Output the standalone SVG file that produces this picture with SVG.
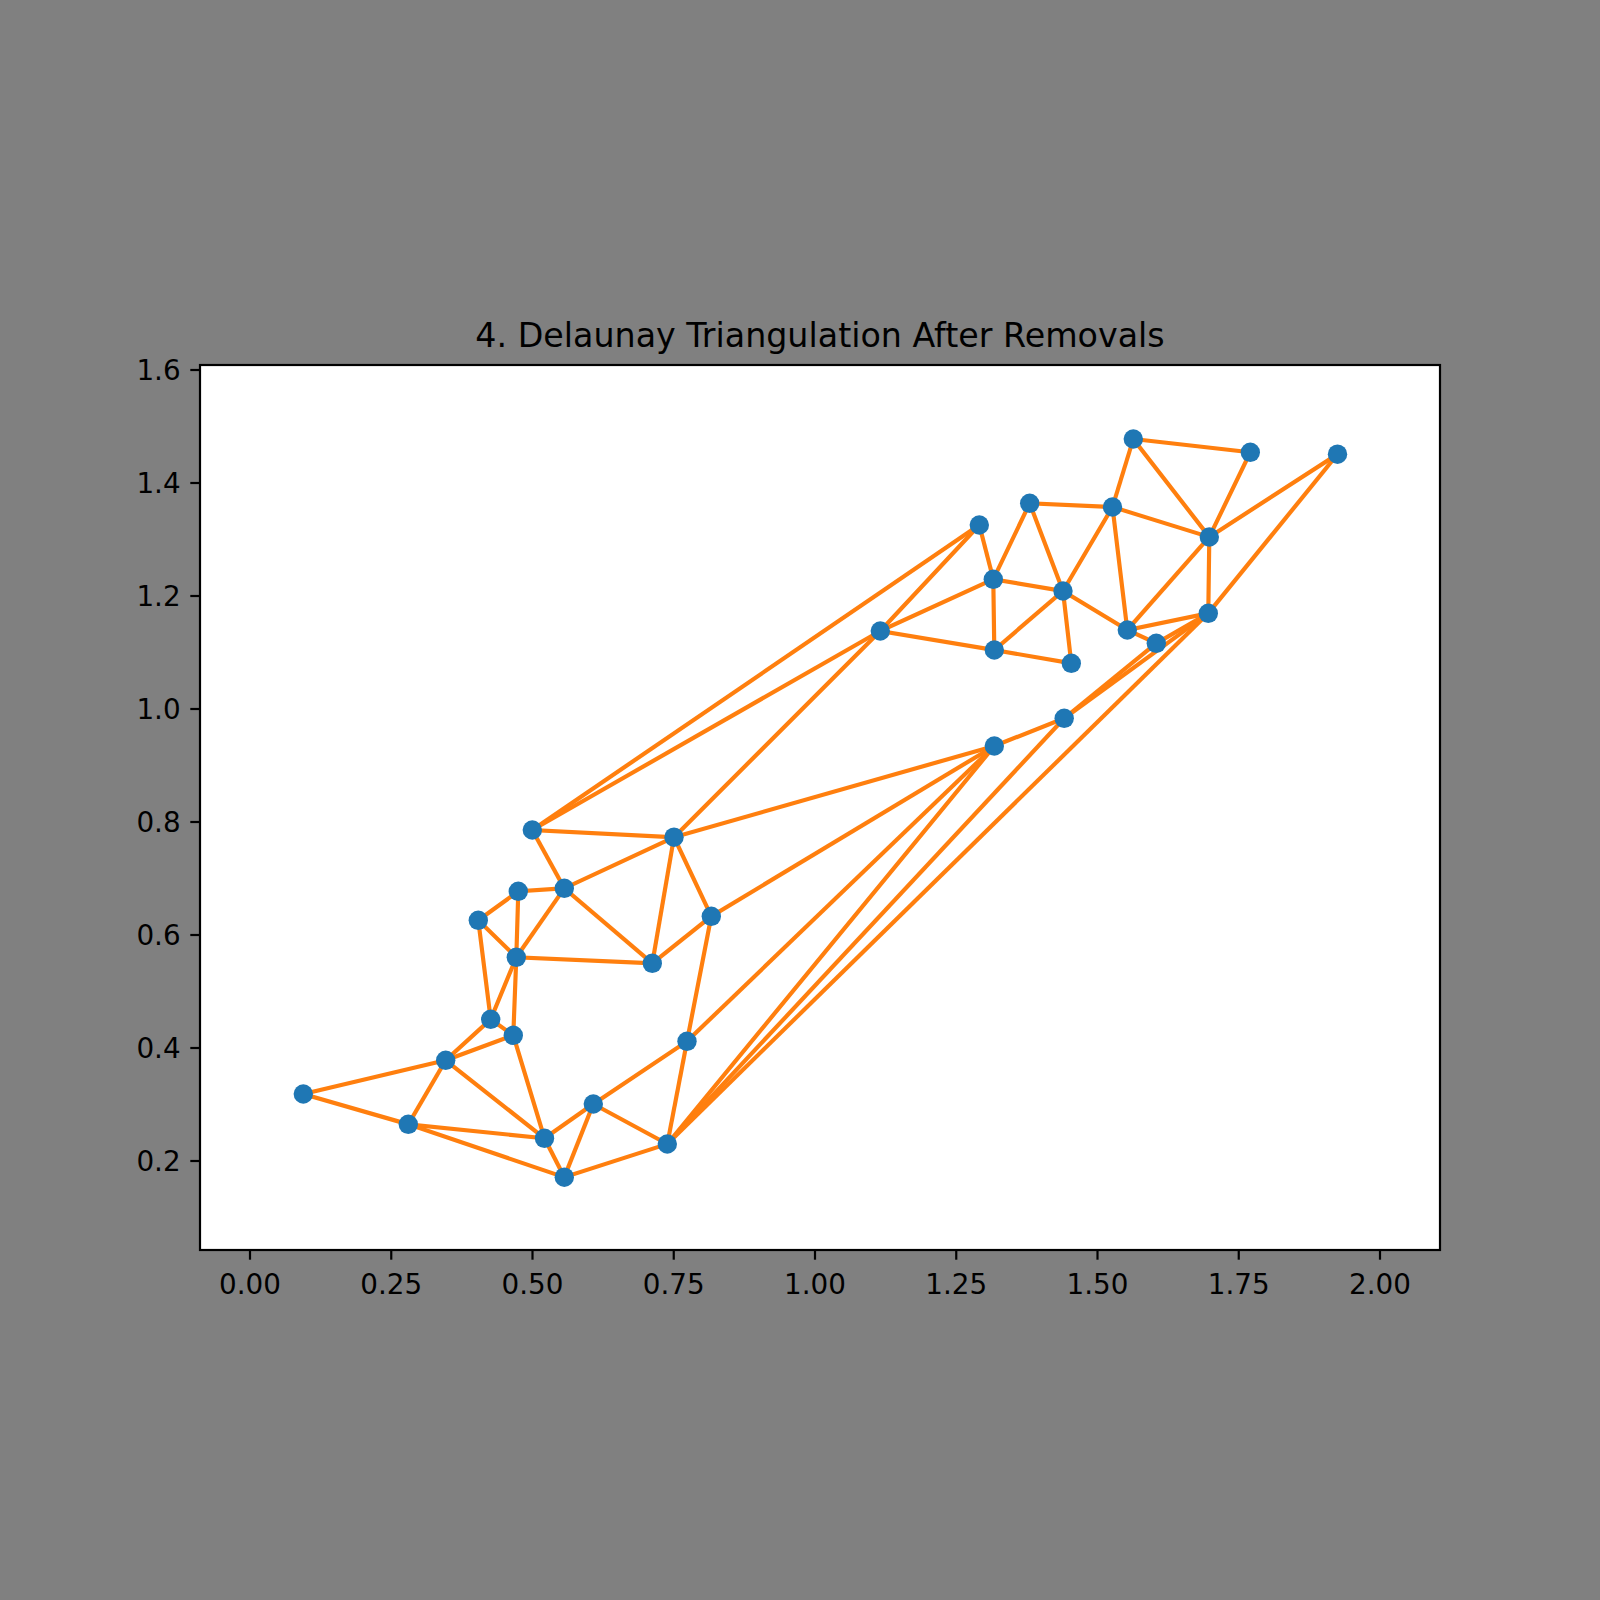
<svg xmlns="http://www.w3.org/2000/svg" width="1600" height="1600" viewBox="0 0 1600 1600">
<style>
.e{stroke:#ff7f0e;stroke-width:4.17;stroke-linecap:square;fill:none}
.n{fill:#1f77b4}
.tk{stroke:#000;stroke-width:2.2}
.tl{font-family:"DejaVu Sans","Liberation Sans",sans-serif;font-size:27.8px;fill:#000}
.yl{text-anchor:end}
.xl{text-anchor:middle}
</style>
<defs><clipPath id="ax"><rect x="200" y="365" width="1240" height="885"/></clipPath></defs>
<rect x="0" y="0" width="1600" height="1600" fill="#808080"/>
<rect x="200" y="365" width="1240" height="885" fill="#fff"/>
<g id="connectors" clip-path="url(#ax)">
<line class="e" x1="303.3" y1="1094" x2="445.7" y2="1060.3"/>
<line class="e" x1="303.3" y1="1094" x2="408.3" y2="1124.3"/>
<line class="e" x1="408.3" y1="1124.3" x2="445.7" y2="1060.3"/>
<line class="e" x1="408.3" y1="1124.3" x2="544.5" y2="1138.3"/>
<line class="e" x1="408.3" y1="1124.3" x2="564.3" y2="1177.2"/>
<line class="e" x1="445.7" y1="1060.3" x2="490.7" y2="1019.3"/>
<line class="e" x1="445.7" y1="1060.3" x2="513.3" y2="1035.3"/>
<line class="e" x1="445.7" y1="1060.3" x2="544.5" y2="1138.3"/>
<line class="e" x1="490.7" y1="1019.3" x2="513.3" y2="1035.3"/>
<line class="e" x1="490.7" y1="1019.3" x2="478.3" y2="920.3"/>
<line class="e" x1="490.7" y1="1019.3" x2="516.3" y2="957.3"/>
<line class="e" x1="513.3" y1="1035.3" x2="516.3" y2="957.3"/>
<line class="e" x1="513.3" y1="1035.3" x2="544.5" y2="1138.3"/>
<line class="e" x1="478.3" y1="920.3" x2="518.3" y2="891.3"/>
<line class="e" x1="478.3" y1="920.3" x2="516.3" y2="957.3"/>
<line class="e" x1="518.3" y1="891.3" x2="516.3" y2="957.3"/>
<line class="e" x1="518.3" y1="891.3" x2="564.3" y2="888.3"/>
<line class="e" x1="516.3" y1="957.3" x2="564.3" y2="888.3"/>
<line class="e" x1="516.3" y1="957.3" x2="652.3" y2="963.3"/>
<line class="e" x1="564.3" y1="888.3" x2="532.3" y2="830"/>
<line class="e" x1="564.3" y1="888.3" x2="674" y2="837.2"/>
<line class="e" x1="564.3" y1="888.3" x2="652.3" y2="963.3"/>
<line class="e" x1="532.3" y1="830" x2="674" y2="837.2"/>
<line class="e" x1="532.3" y1="830" x2="880.3" y2="631"/>
<line class="e" x1="532.3" y1="830" x2="979.3" y2="525"/>
<line class="e" x1="674" y1="837.2" x2="652.3" y2="963.3"/>
<line class="e" x1="674" y1="837.2" x2="711.3" y2="916.3"/>
<line class="e" x1="674" y1="837.2" x2="880.3" y2="631"/>
<line class="e" x1="674" y1="837.2" x2="994.3" y2="746"/>
<line class="e" x1="711.3" y1="916.3" x2="652.3" y2="963.3"/>
<line class="e" x1="711.3" y1="916.3" x2="687" y2="1041.3"/>
<line class="e" x1="711.3" y1="916.3" x2="994.3" y2="746"/>
<line class="e" x1="687" y1="1041.3" x2="667.3" y2="1144"/>
<line class="e" x1="687" y1="1041.3" x2="593.3" y2="1104"/>
<line class="e" x1="687" y1="1041.3" x2="994.3" y2="746"/>
<line class="e" x1="593.3" y1="1104" x2="544.5" y2="1138.3"/>
<line class="e" x1="593.3" y1="1104" x2="564.3" y2="1177.2"/>
<line class="e" x1="593.3" y1="1104" x2="667.3" y2="1144"/>
<line class="e" x1="544.5" y1="1138.3" x2="564.3" y2="1177.2"/>
<line class="e" x1="564.3" y1="1177.2" x2="667.3" y2="1144"/>
<line class="e" x1="667.3" y1="1144" x2="994.3" y2="746"/>
<line class="e" x1="667.3" y1="1144" x2="1064.2" y2="718.3"/>
<line class="e" x1="667.3" y1="1144" x2="1208.3" y2="613.3"/>
<line class="e" x1="994.3" y1="746" x2="1064.2" y2="718.3"/>
<line class="e" x1="1064.2" y1="718.3" x2="1156.3" y2="643.3"/>
<line class="e" x1="1064.2" y1="718.3" x2="1208.3" y2="613.3"/>
<line class="e" x1="880.3" y1="631" x2="979.3" y2="525"/>
<line class="e" x1="880.3" y1="631" x2="993.3" y2="579.3"/>
<line class="e" x1="880.3" y1="631" x2="994.3" y2="650"/>
<line class="e" x1="979.3" y1="525" x2="993.3" y2="579.3"/>
<line class="e" x1="993.3" y1="579.3" x2="1029.7" y2="503.3"/>
<line class="e" x1="993.3" y1="579.3" x2="1063" y2="591"/>
<line class="e" x1="993.3" y1="579.3" x2="994.3" y2="650"/>
<line class="e" x1="994.3" y1="650" x2="1063" y2="591"/>
<line class="e" x1="994.3" y1="650" x2="1071.3" y2="663.3"/>
<line class="e" x1="1063" y1="591" x2="1071.3" y2="663.3"/>
<line class="e" x1="1029.7" y1="503.3" x2="1063" y2="591"/>
<line class="e" x1="1029.7" y1="503.3" x2="1112.5" y2="507"/>
<line class="e" x1="1063" y1="591" x2="1112.5" y2="507"/>
<line class="e" x1="1063" y1="591" x2="1127.3" y2="630"/>
<line class="e" x1="1112.5" y1="507" x2="1127.3" y2="630"/>
<line class="e" x1="1112.5" y1="507" x2="1133.3" y2="439"/>
<line class="e" x1="1112.5" y1="507" x2="1209.3" y2="537"/>
<line class="e" x1="1127.3" y1="630" x2="1209.3" y2="537"/>
<line class="e" x1="1127.3" y1="630" x2="1208.3" y2="613.3"/>
<line class="e" x1="1127.3" y1="630" x2="1156.3" y2="643.3"/>
<line class="e" x1="1133.3" y1="439" x2="1250.3" y2="452.3"/>
<line class="e" x1="1133.3" y1="439" x2="1209.3" y2="537"/>
<line class="e" x1="1250.3" y1="452.3" x2="1209.3" y2="537"/>
<line class="e" x1="1337.5" y1="454.2" x2="1209.3" y2="537"/>
<line class="e" x1="1337.5" y1="454.2" x2="1208.3" y2="613.3"/>
<line class="e" x1="1209.3" y1="537" x2="1208.3" y2="613.3"/>
<line class="e" x1="1208.3" y1="613.3" x2="1156.3" y2="643.3"/>
</g>
<g id="nodes">
<g id="n01"><circle class="n" cx="303.3" cy="1094" r="9.7"/></g>
<g id="n02"><circle class="n" cx="408.3" cy="1124.3" r="9.7"/></g>
<g id="n03"><circle class="n" cx="445.7" cy="1060.3" r="9.7"/></g>
<g id="n04"><circle class="n" cx="490.7" cy="1019.3" r="9.7"/></g>
<g id="n05"><circle class="n" cx="513.3" cy="1035.3" r="9.7"/></g>
<g id="n06"><circle class="n" cx="478.3" cy="920.3" r="9.7"/></g>
<g id="n07"><circle class="n" cx="518.3" cy="891.3" r="9.7"/></g>
<g id="n08"><circle class="n" cx="516.3" cy="957.3" r="9.7"/></g>
<g id="n09"><circle class="n" cx="564.3" cy="888.3" r="9.7"/></g>
<g id="n10"><circle class="n" cx="544.5" cy="1138.3" r="9.7"/></g>
<g id="n11"><circle class="n" cx="564.3" cy="1177.2" r="9.7"/></g>
<g id="n12"><circle class="n" cx="674" cy="837.2" r="9.7"/></g>
<g id="n13"><circle class="n" cx="711.3" cy="916.3" r="9.7"/></g>
<g id="n14"><circle class="n" cx="652.3" cy="963.3" r="9.7"/></g>
<g id="n15"><circle class="n" cx="687" cy="1041.3" r="9.7"/></g>
<g id="n16"><circle class="n" cx="593.3" cy="1104" r="9.7"/></g>
<g id="n17"><circle class="n" cx="667.3" cy="1144" r="9.7"/></g>
<g id="n18"><circle class="n" cx="532.3" cy="830" r="9.7"/></g>
<g id="n19"><circle class="n" cx="880.3" cy="631" r="9.7"/></g>
<g id="n20"><circle class="n" cx="979.3" cy="525" r="9.7"/></g>
<g id="n21"><circle class="n" cx="993.3" cy="579.3" r="9.7"/></g>
<g id="n22"><circle class="n" cx="994.3" cy="650" r="9.7"/></g>
<g id="n23"><circle class="n" cx="1029.7" cy="503.3" r="9.7"/></g>
<g id="n24"><circle class="n" cx="1063" cy="591" r="9.7"/></g>
<g id="n25"><circle class="n" cx="1071.3" cy="663.3" r="9.7"/></g>
<g id="n26"><circle class="n" cx="1112.5" cy="507" r="9.7"/></g>
<g id="n27"><circle class="n" cx="1127.3" cy="630" r="9.7"/></g>
<g id="n28"><circle class="n" cx="1064.2" cy="718.3" r="9.7"/></g>
<g id="n29"><circle class="n" cx="994.3" cy="746" r="9.7"/></g>
<g id="n30"><circle class="n" cx="1133.3" cy="439" r="9.7"/></g>
<g id="n31"><circle class="n" cx="1250.3" cy="452.3" r="9.7"/></g>
<g id="n32"><circle class="n" cx="1337.5" cy="454.2" r="9.7"/></g>
<g id="n33"><circle class="n" cx="1209.3" cy="537" r="9.7"/></g>
<g id="n34"><circle class="n" cx="1208.3" cy="613.3" r="9.7"/></g>
<g id="n35"><circle class="n" cx="1156.3" cy="643.3" r="9.7"/></g>
</g>
<rect x="200" y="365" width="1240" height="885" fill="none" stroke="#000" stroke-width="2.2"/>
<g id="xticks">
<line class="tk" x1="250" y1="1250" x2="250" y2="1259.7"/>
<line class="tk" x1="391.25" y1="1250" x2="391.25" y2="1259.7"/>
<line class="tk" x1="532.5" y1="1250" x2="532.5" y2="1259.7"/>
<line class="tk" x1="673.75" y1="1250" x2="673.75" y2="1259.7"/>
<line class="tk" x1="815" y1="1250" x2="815" y2="1259.7"/>
<line class="tk" x1="956.25" y1="1250" x2="956.25" y2="1259.7"/>
<line class="tk" x1="1097.5" y1="1250" x2="1097.5" y2="1259.7"/>
<line class="tk" x1="1238.75" y1="1250" x2="1238.75" y2="1259.7"/>
<line class="tk" x1="1380" y1="1250" x2="1380" y2="1259.7"/>
<text class="tl xl" x="250" y="1294">0.00</text>
<text class="tl xl" x="391.25" y="1294">0.25</text>
<text class="tl xl" x="532.5" y="1294">0.50</text>
<text class="tl xl" x="673.75" y="1294">0.75</text>
<text class="tl xl" x="815" y="1294">1.00</text>
<text class="tl xl" x="956.25" y="1294">1.25</text>
<text class="tl xl" x="1097.5" y="1294">1.50</text>
<text class="tl xl" x="1238.75" y="1294">1.75</text>
<text class="tl xl" x="1380" y="1294">2.00</text>
</g>
<g id="yticks">
<line class="tk" x1="190.3" y1="1161" x2="200" y2="1161"/>
<line class="tk" x1="190.3" y1="1048" x2="200" y2="1048"/>
<line class="tk" x1="190.3" y1="935" x2="200" y2="935"/>
<line class="tk" x1="190.3" y1="822" x2="200" y2="822"/>
<line class="tk" x1="190.3" y1="709" x2="200" y2="709"/>
<line class="tk" x1="190.3" y1="596" x2="200" y2="596"/>
<line class="tk" x1="190.3" y1="483" x2="200" y2="483"/>
<line class="tk" x1="190.3" y1="370" x2="200" y2="370"/>
<text class="tl yl" x="180.6" y="1171.1">0.2</text>
<text class="tl yl" x="180.6" y="1058.1">0.4</text>
<text class="tl yl" x="180.6" y="945.1">0.6</text>
<text class="tl yl" x="180.6" y="832.1">0.8</text>
<text class="tl yl" x="180.6" y="719.1">1.0</text>
<text class="tl yl" x="180.6" y="606.1">1.2</text>
<text class="tl yl" x="180.6" y="493.1">1.4</text>
<text class="tl yl" x="180.6" y="380.1">1.6</text>
</g>
<text x="820" y="347" text-anchor="middle" font-family="DejaVu Sans, Liberation Sans, sans-serif" font-size="33.3px" fill="#000">4. Delaunay Triangulation After Removals</text>
</svg>
